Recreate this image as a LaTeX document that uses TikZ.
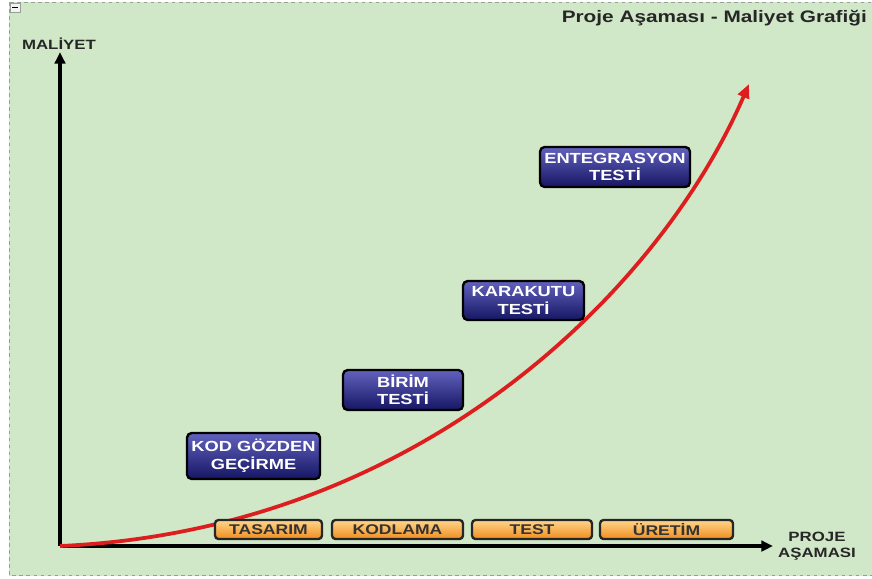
\documentclass[tikz,border=0pt]{standalone}
\usepackage{fontspec}
\setmainfont{Liberation Sans}[FakeStretch=1.25]
\usetikzlibrary{arrows.meta,positioning}
\definecolor{bggreen}{RGB}{208,232,199}
\definecolor{bordergray}{RGB}{150,160,150}
\definecolor{navytop}{RGB}{98,98,190}
\definecolor{navybot}{RGB}{22,22,100}
\definecolor{orangetop}{RGB}{255,214,140}
\definecolor{orangebot}{RGB}{240,140,30}
\definecolor{costred}{RGB}{222,30,30}
\tikzset{
  axis/.style={line width=2.6pt,-{Triangle[length=10pt,width=9pt]}},
  cost/.style={line width=3.2pt,costred,-{Triangle[length=12pt,width=10pt]}},
  testbox/.style={draw=black,line width=2pt,rounded corners=4pt,top color=navytop,bottom color=navybot,
    text=white,align=center,inner sep=0pt,font=\bfseries\fontsize{12.5}{15}\selectfont},
  phasebox/.style={draw=black!85,line width=2pt,rounded corners=3pt,top color=orangetop,bottom color=orangebot,
    text=black!80,inner sep=0pt,minimum height=0.57cm,font=\bfseries\fontsize{12}{13}\selectfont},
  label/.style={text=black!85,font=\bfseries\fontsize{11.5}{14}\selectfont}
}
\begin{document}
\begin{tikzpicture}[x=0.03cm,y=-0.03cm]
    \useasboundingbox (0,0) rectangle (872,578);
    \clip (0,0) rectangle (872,578);
    \fill[white] (0,0) rectangle (872,578);
    \draw[bggreen!100,fill=bggreen] (9,2) rectangle (890,575);
    \draw[bordergray,dashed,line width=0.8pt] (9,2) rectangle (890,575);
    % small box top left
    \draw[bordergray,fill=white!90!gray,line width=0.6pt] (10,3) rectangle (20,12);
    \draw[black,line width=0.6pt] (12,7.5) -- (18,7.5);
    % title
    \node[anchor=east,font=\bfseries\fontsize{14.2}{16}\selectfont,text=black!85] (title) at (871,18) {Proje Aşaması - Maliyet Grafiği};
    % axes
    \coordinate (origin) at (60,546);
    \coordinate (ytop) at (60,52);
    \coordinate (xend) at (773,546);
    \draw[axis] (origin) -- (ytop);
    \draw[axis] (origin) -- (xend);
    \node[label] (maliyet) at (59,44) {MALİYET};
    \node[label,align=center] (asama) at (817,546) {PROJE\\AŞAMASI};
    % cost curve
    \coordinate (cend) at (749,84);
    \draw[cost] (origin) .. controls (420,530) and (660,290) .. (cend);
    % test boxes
    \node[testbox,minimum width=3.99cm,minimum height=1.38cm] (kodgozden) at (253.5,456) {KOD GÖZDEN\\GEÇİRME};
    \node[testbox,minimum width=3.6cm,minimum height=1.2cm] (birim) at (403,390) {BİRİM\\TESTİ};
    \node[testbox,minimum width=3.63cm,minimum height=1.17cm] (karakutu) at (523.5,300.5) {KARAKUTU\\TESTİ};
    \node[testbox,minimum width=4.5cm,minimum height=1.2cm] (entegrasyon) at (615,167) {ENTEGRASYON\\TESTİ};
    % phase boxes
    \node[phasebox,minimum width=3.21cm] (tasarim) at (268.5,529.5) {TASARIM};
    \node[phasebox,minimum width=3.93cm] (kodlama) at (397.5,529.5) {KODLAMA};
    \node[phasebox,minimum width=3.6cm] (testphase) at (532,529.5) {TEST};
    \node[phasebox,minimum width=3.99cm] (uretim) at (666.5,529.5) {ÜRETİM};
\end{tikzpicture}
\end{document}
